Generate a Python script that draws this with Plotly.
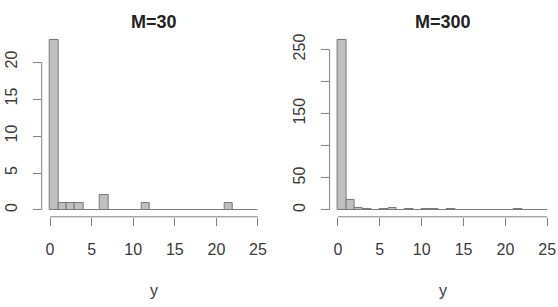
import plotly.graph_objects as go

# Histogram bins: [k, k+1) for k = 0..24
bin_left = list(range(25))
counts_m30 = [23, 1, 1, 1, 0, 0, 2, 0, 0, 0, 0, 1, 0, 0, 0, 0, 0, 0, 0, 0, 0, 1, 0, 0, 0]
counts_m300 = [265, 16, 3, 2, 0, 2, 3, 0, 2, 0, 2, 2, 0, 2, 0, 0, 0, 0, 0, 0, 0, 1, 0, 0, 0]
titles = ["M=30", "M=300"]
x_ticks = [0, 5, 10, 15, 20, 25]
y_ticks_m30 = [0, 5, 10, 15, 20]
y_labels_m30 = ["0", "5", "10", "15", "20"]
y_ticks_m300 = [0, 50, 100, 150, 200, 250]
y_labels_m300 = ["0", "50", "", "150", "", "250"]
x_label = "y"

W, H = 558, 307
FONT = "Liberation Sans, Arial, Helvetica, sans-serif"
AXC = "#808080"
TXT = "#3a3a3a"

ydom = [1 - 216.8 / H, 1 - 33.0 / H]
xdoms = [[41.7 / W, 266.3 / W], [329.6 / W, 555.6 / W]]

fig = go.Figure()
panels = [
    (counts_m30, y_ticks_m30, y_labels_m30),
    (counts_m300, y_ticks_m300, y_labels_m300),
]
centers = [b + 0.5 for b in bin_left]
shapes = []
annotations = []
for i, (counts, yt, yl) in enumerate(panels):
    xa = "x" if i == 0 else "x2"
    ya = "y" if i == 0 else "y2"
    fig.add_trace(go.Bar(
        x=centers, y=counts, width=1, xaxis=xa, yaxis=ya,
        marker=dict(color="#bfbfbf", line=dict(color="#7a7a7a", width=1)),
        showlegend=False, hoverinfo="x+y",
    ))
    ymax = max(counts)
    pad = ymax * 0.04
    xk = "xaxis" if i == 0 else "xaxis2"
    yk = "yaxis" if i == 0 else "yaxis2"
    fig.update_layout(**{
        xk: dict(domain=xdoms[i], anchor=ya, range=[-1, 26], showgrid=False, zeroline=False,
                 showline=False, tickmode="array", tickvals=x_ticks,
                 ticktext=[str(t) for t in x_ticks], ticks="outside", ticklen=8,
                 tickcolor=AXC, tickwidth=1, ticklabelstandoff=10,
                 tickfont=dict(family=FONT, size=16, color=TXT)),
        yk: dict(domain=ydom, anchor=xa, range=[-pad, ymax + pad], showgrid=False,
                 zeroline=False, showline=False, tickmode="array", tickvals=yt,
                 ticktext=yl, ticks="outside", ticklen=8, tickcolor=AXC, tickwidth=1,
                 tickangle=-90, ticklabelstandoff=9,
                 tickfont=dict(family=FONT, size=16, color=TXT)),
    })
    # R-style axis lines spanning first to last tick
    shapes.append(dict(type="line", xref=xa, yref="paper", x0=x_ticks[0], x1=x_ticks[-1],
                       y0=ydom[0], y1=ydom[0], line=dict(color=AXC, width=1)))
    shapes.append(dict(type="line", xref="paper", yref=ya, x0=xdoms[i][0], x1=xdoms[i][0],
                       y0=yt[0], y1=yt[-1], line=dict(color=AXC, width=1)))
    cx = (xdoms[i][0] + xdoms[i][1]) / 2
    annotations.append(dict(text="<b>" + titles[i] + "</b>", x=cx, y=1 - 22 / H, xref="paper",
                            yref="paper", showarrow=False, xanchor="center", yanchor="middle",
                            font=dict(family=FONT, size=18, color="#222222")))
    annotations.append(dict(text=x_label, x=cx, y=1 - 290 / H, xref="paper", yref="paper",
                            showarrow=False, xanchor="center", yanchor="middle",
                            font=dict(family=FONT, size=16, color=TXT)))

fig.update_layout(width=W, height=H, margin=dict(l=0, r=0, t=0, b=0),
                  paper_bgcolor="white", plot_bgcolor="white", bargap=0,
                  shapes=shapes, annotations=annotations)
fig.write_html("out.html")
